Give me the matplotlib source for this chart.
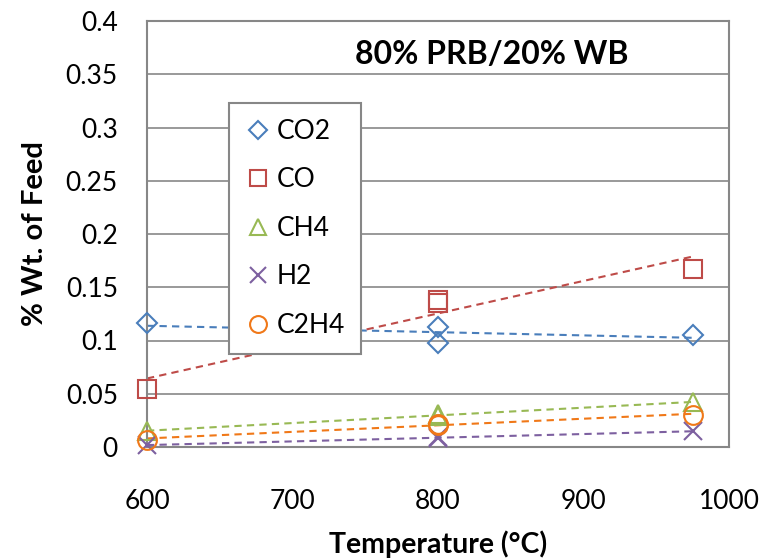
import numpy as np
import matplotlib
matplotlib.use("Agg")
import matplotlib.pyplot as plt

plt.rcParams['font.family'] = ['Lato', 'DejaVu Sans']

# Measured yields (% wt. of feed) at each reactor temperature
temperature = [600, 800, 800, 975]
co2 = [0.116, 0.113, 0.098, 0.105]
co = [0.054, 0.135, 0.138, 0.167]
ch4 = [0.015, 0.031, 0.029, 0.042]
h2 = [0.002, 0.009, 0.008, 0.015]
c2h4 = [0.007, 0.022, 0.021, 0.030]

series_names = ['CO2', 'CO', 'CH4', 'H2', 'C2H4']
series_values = [co2, co, ch4, h2, c2h4]
x_ticks = [600, 700, 800, 900, 1000]
y_ticks = [0, 0.05, 0.1, 0.15, 0.2, 0.25, 0.3, 0.35, 0.4]
y_tick_labels = ['0', '0.05', '0.1', '0.15', '0.2', '0.25', '0.3', '0.35', '0.4']

colors = ['#4A7EBB', '#BE4B48', '#98B954', '#7D60A0', '#F07818']
markers = ['D', 's', '^', 'x', 'o']
msizes = [10, 13.5, 12.5, 12.5, 13.5]

fig = plt.figure(figsize=(7.67, 5.6), dpi=100)
ax = fig.add_axes([147 / 767, 1 - 447 / 560, (729 - 147) / 767, (447 - 21) / 560])

grid_color = '#878787'
for y in y_ticks:
    ax.axhline(y, color=grid_color, lw=1.2, zorder=0)

x_arr = np.asarray(temperature, dtype=float)
for name, vals, c, m, ms in zip(series_names, series_values, colors, markers, msizes):
    v = np.asarray(vals, dtype=float)
    # linear trendline through all measurements
    slope, intercept = np.polyfit(x_arr, v, 1)
    xs = np.array([x_arr.min(), x_arr.max()])
    ax.plot(xs, slope * xs + intercept, ls=(0, (3.5, 2.5)), color=c, lw=1.5, zorder=2)
    ax.plot(x_arr, v, ls='none', marker=m, ms=ms, mfc='none', mec=c, mew=1.5,
            color=c, label=name, zorder=3, clip_on=False)

ax.set_xlim(600, 1000)
ax.set_ylim(0, 0.4)
ax.set_xticks(x_ticks)
ax.set_xticklabels([str(t) for t in x_ticks])
ax.set_yticks(y_ticks)
ax.set_yticklabels(y_tick_labels)
ax.tick_params(axis='both', length=0, labelsize=19, colors='black')
ax.tick_params(axis='x', pad=30)
ax.tick_params(axis='y', pad=21)
for sp in ax.spines.values():
    sp.set_color(grid_color)
    sp.set_linewidth(1.5)

ax.set_xlabel('Temperature (°C)', fontsize=20.5, fontweight='bold', labelpad=12)
ax.set_ylabel('% Wt. of Feed', fontsize=21, fontweight='bold', labelpad=13)

ax.text(0.593, 0.922, '80% PRB/20% WB', transform=ax.transAxes, ha='center', va='center',
        fontsize=23, fontweight='bold')

leg = ax.legend(loc='upper left', bbox_to_anchor=(0.141, 0.8075), borderaxespad=0,
                fontsize=19, frameon=True, fancybox=False, edgecolor=grid_color,
                framealpha=1, handlelength=1.0, handletextpad=0.2, labelspacing=0.89,
                borderpad=0.6, markerscale=0.9)
leg.get_frame().set_linewidth(1.5)

fig.savefig('out.png', dpi=100)
